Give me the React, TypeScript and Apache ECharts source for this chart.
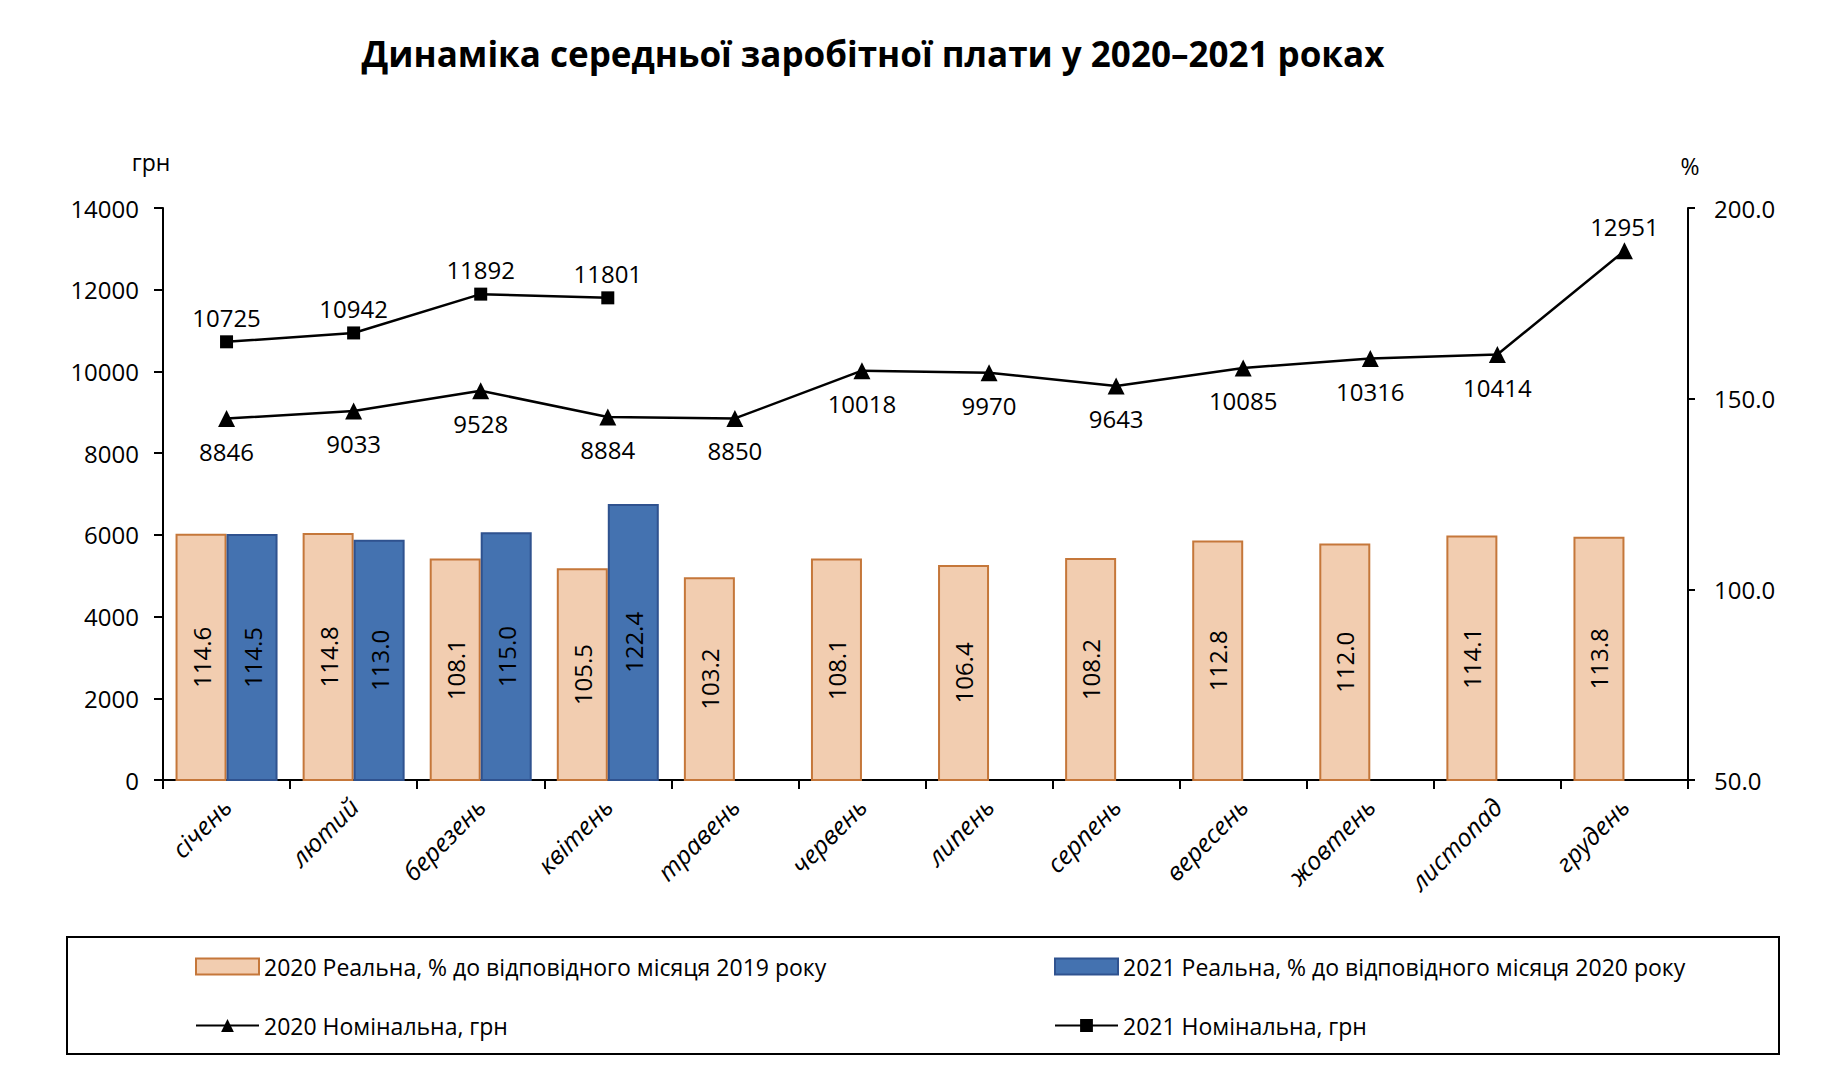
import React, { useEffect, useRef } from "react";
import * as echarts from "echarts";

const months = ["січень", "лютий", "березень", "квітень", "травень", "червень", "липень", "серпень", "вересень", "жовтень", "листопад", "грудень"];
const real2020 = [114.6, 114.8, 108.1, 105.5, 103.2, 108.1, 106.4, 108.2, 112.8, 112.0, 114.1, 113.8];
const real2021 = [114.5, 113.0, 115.0, 122.4, null, null, null, null, null, null, null, null];
const nominal2020 = [8846, 9033, 9528, 8884, 8850, 10018, 9970, 9643, 10085, 10316, 10414, 12951];
const nominal2021 = [10725, 10942, 11892, 11801, null, null, null, null, null, null, null, null];
const leftTicks = { min: 0, max: 14000, interval: 2000 };
const rightTicks = { min: 50, max: 200, interval: 50 };

const titleText = "Динаміка середньої заробітної плати у 2020–2021 роках";
const nameBar2020 = "2020 Реальна, % до відповідного місяця 2019 року";
const nameBar2021 = "2021 Реальна, % до відповідного місяця 2020 року";
const nameLine2020 = "2020 Номінальна, грн";
const nameLine2021 = "2021 Номінальна, грн";

const FONT = "'Open Sans', 'Noto Sans', sans-serif";

export default function App() {
  const ref = useRef<HTMLDivElement>(null);
  useEffect(() => {
    document.body.style.margin = "0";
    if (!ref.current) return;
    const chart = echarts.init(ref.current, undefined, { renderer: "svg" });
    const legendText = { fontFamily: FONT, fontSize: 23, color: "#000" };
    const lastIdx = nominal2020.length - 1;
    chart.setOption({
      animation: false,
      backgroundColor: "#fff",
      textStyle: { fontFamily: FONT, color: "#000" },
      grid: { left: 163, right: 153, top: 208, bottom: 287, containLabel: false },
      graphic: [
        {
          type: "text",
          x: 873,
          y: 53,
          style: { text: titleText, fontFamily: FONT, fontWeight: "bold", fontSize: 35, fill: "#000", textAlign: "center", textVerticalAlign: "middle" },
        },
        {
          type: "text",
          x: 151,
          y: 162,
          style: { text: "грн", fontFamily: FONT, fontSize: 23, fill: "#000", textAlign: "center", textVerticalAlign: "middle" },
        },
        {
          type: "text",
          x: 1690,
          y: 166,
          style: { text: "%", fontFamily: FONT, fontSize: 23, fill: "#000", textAlign: "center", textVerticalAlign: "middle" },
        },
        {
          type: "rect",
          shape: { x: 67, y: 937, width: 1712, height: 117 },
          style: { fill: "none", stroke: "#000", lineWidth: 2 },
        },
      ],
      legend: [
        { data: [nameBar2020], left: 195, top: 955, padding: 0, icon: "rect", itemWidth: 63, itemHeight: 16, textStyle: legendText },
        { data: [nameBar2021], left: 1054, top: 955, padding: 0, icon: "rect", itemWidth: 63, itemHeight: 16, textStyle: legendText },
        { data: [nameLine2020], left: 195, top: 1014, padding: 0, itemWidth: 63, itemHeight: 16, textStyle: legendText },
        { data: [nameLine2021], left: 1054, top: 1014, padding: 0, itemWidth: 63, itemHeight: 16, textStyle: legendText },
      ],
      xAxis: {
        type: "category",
        data: months,
        axisLine: { lineStyle: { color: "#000", width: 2 } },
        axisTick: { show: true, length: 9, lineStyle: { color: "#000", width: 2 } },
        axisLabel: { rotate: 45, margin: 22, fontSize: 25, fontStyle: "italic", fontFamily: FONT, color: "#000", interval: 0 },
        splitLine: { show: false },
      },
      yAxis: [
        {
          type: "value",
          min: leftTicks.min,
          max: leftTicks.max,
          interval: leftTicks.interval,
          position: "left",
          axisLine: { show: true, lineStyle: { color: "#000", width: 2 } },
          axisTick: { show: true, length: 9, lineStyle: { color: "#000", width: 2 } },
          axisLabel: { fontSize: 24, margin: 24, fontFamily: FONT, color: "#000", formatter: (v: number) => String(v) },
          splitLine: { show: false },
        },
        {
          type: "value",
          min: rightTicks.min,
          max: rightTicks.max,
          interval: rightTicks.interval,
          position: "right",
          axisLine: { show: true, lineStyle: { color: "#000", width: 2 } },
          axisTick: { show: true, length: 7, lineStyle: { color: "#000", width: 2 } },
          axisLabel: { fontSize: 24, margin: 26, fontFamily: FONT, color: "#000", formatter: (v: number) => v.toFixed(1) },
          splitLine: { show: false },
        },
      ],
      series: [
        {
          name: nameBar2020,
          type: "bar",
          yAxisIndex: 1,
          data: real2020,
          barWidth: 51,
          barGap: "0%",
          itemStyle: { color: "#F2CDB0", borderColor: "#C5773A", borderWidth: 2 },
          label: { show: true, position: "inside", rotate: 90, fontSize: 24, fontFamily: FONT, color: "#000", formatter: (p: any) => Number(p.value).toFixed(1) },
          z: 2,
        },
        {
          name: nameBar2021,
          type: "bar",
          yAxisIndex: 1,
          data: real2021,
          barWidth: 51,
          barGap: "0%",
          itemStyle: { color: "#4472B0", borderColor: "#2F528F", borderWidth: 2 },
          label: { show: true, position: "inside", rotate: 90, fontSize: 24, fontFamily: FONT, color: "#000", formatter: (p: any) => Number(p.value).toFixed(1) },
          z: 2,
        },
        {
          name: nameLine2020,
          type: "line",
          yAxisIndex: 0,
          data: nominal2020.map((v, i) => (i === lastIdx ? { value: v, label: { position: "top", distance: 4 } } : v)),
          symbol: "triangle",
          symbolSize: 17,
          lineStyle: { color: "#000", width: 2.5 },
          itemStyle: { color: "#000" },
          label: { show: true, position: "bottom", distance: 12, fontSize: 24, fontFamily: FONT, color: "#000" },
          z: 5,
        },
        {
          name: nameLine2021,
          type: "line",
          yAxisIndex: 0,
          data: nominal2021,
          symbol: "rect",
          symbolSize: 13,
          lineStyle: { color: "#000", width: 2.5 },
          itemStyle: { color: "#000" },
          label: { show: true, position: "top", distance: 6, fontSize: 24, fontFamily: FONT, color: "#000" },
          z: 5,
        },
      ],
    });
    return () => chart.dispose();
  }, []);
  return <div ref={ref} style={{ width: 1841, height: 1067 }} />;
}
